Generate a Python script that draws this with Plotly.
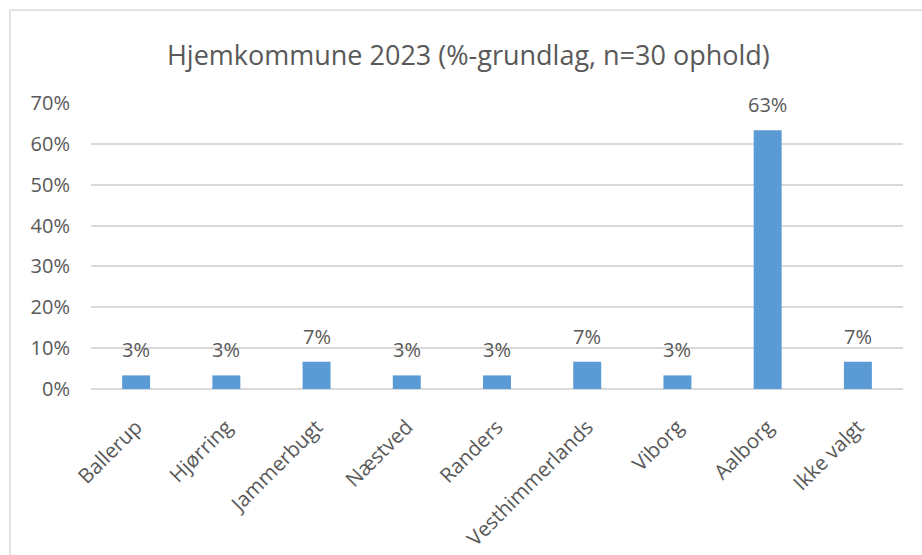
import plotly.graph_objects as go

categories = ["Ballerup", "Hjørring", "Jammerbugt", "Næstved", "Randers",
              "Vesthimmerlands", "Viborg", "Aalborg", "Ikke valgt"]
values = [3.33, 3.33, 6.67, 3.33, 3.33, 6.67, 3.33, 63.33, 6.67]
labels = ["3%", "3%", "7%", "3%", "3%", "7%", "3%", "63%", "7%"]
y_ticks = [0, 10, 20, 30, 40, 50, 60, 70]
y_tick_text = ["0%", "10%", "20%", "30%", "40%", "50%", "60%", "70%"]

FONT = "Open Sans"
GRAY = "#595959"

fig = go.Figure()
fig.add_trace(go.Bar(
    x=categories, y=values,
    marker=dict(color="#5b9bd5", line=dict(width=0)),
    hoverinfo="skip",
))

annotations = [
    dict(x=c, y=v, text=t, showarrow=False, xref="x", yref="y",
         yanchor="bottom", yshift=10,
         font=dict(family=FONT, size=20, color=GRAY))
    for c, v, t in zip(categories, values, labels)
]

fig.update_layout(
    width=922, height=555,
    paper_bgcolor="white", plot_bgcolor="white",
    margin=dict(l=91, r=19, t=103, b=166),
    bargap=0.69,
    showlegend=False,
    title=dict(text="Hjemkommune 2023 (%-grundlag, n=30 ophold)",
               x=0.508, xanchor="center", y=0.9, yanchor="middle",
               font=dict(family=FONT, size=27, color=GRAY)),
    annotations=annotations,
    shapes=[
        dict(type="line", xref="paper", yref="paper",
             x0=-0.0998, x1=1.05, y0=1.325, y1=1.325,
             line=dict(color="#d9d9d9", width=1.5)),
        dict(type="line", xref="paper", yref="paper",
             x0=-0.0998, x1=-0.0998, y0=1.325, y1=-0.7,
             line=dict(color="#d9d9d9", width=1.5)),
    ],
    xaxis=dict(
        tickangle=-45, showgrid=False, showline=False, ticks="",
        ticklabelstandoff=21, automargin=False,
        tickfont=dict(family=FONT, size=20.5, color=GRAY),
    ),
    yaxis=dict(
        range=[0, 70], tickmode="array", tickvals=y_ticks, ticktext=y_tick_text,
        showgrid=True, gridcolor="#d9d9d9", gridwidth=1.5,
        zeroline=True, zerolinecolor="#d9d9d9", zerolinewidth=1.5,
        showline=False, ticks="", ticklabelstandoff=20, automargin=False,
        tickfont=dict(family=FONT, size=20, color=GRAY),
    ),
)

fig.write_html("out.html", config={"displayModeBar": False},
               post_script="document.body.style.margin='0';")
